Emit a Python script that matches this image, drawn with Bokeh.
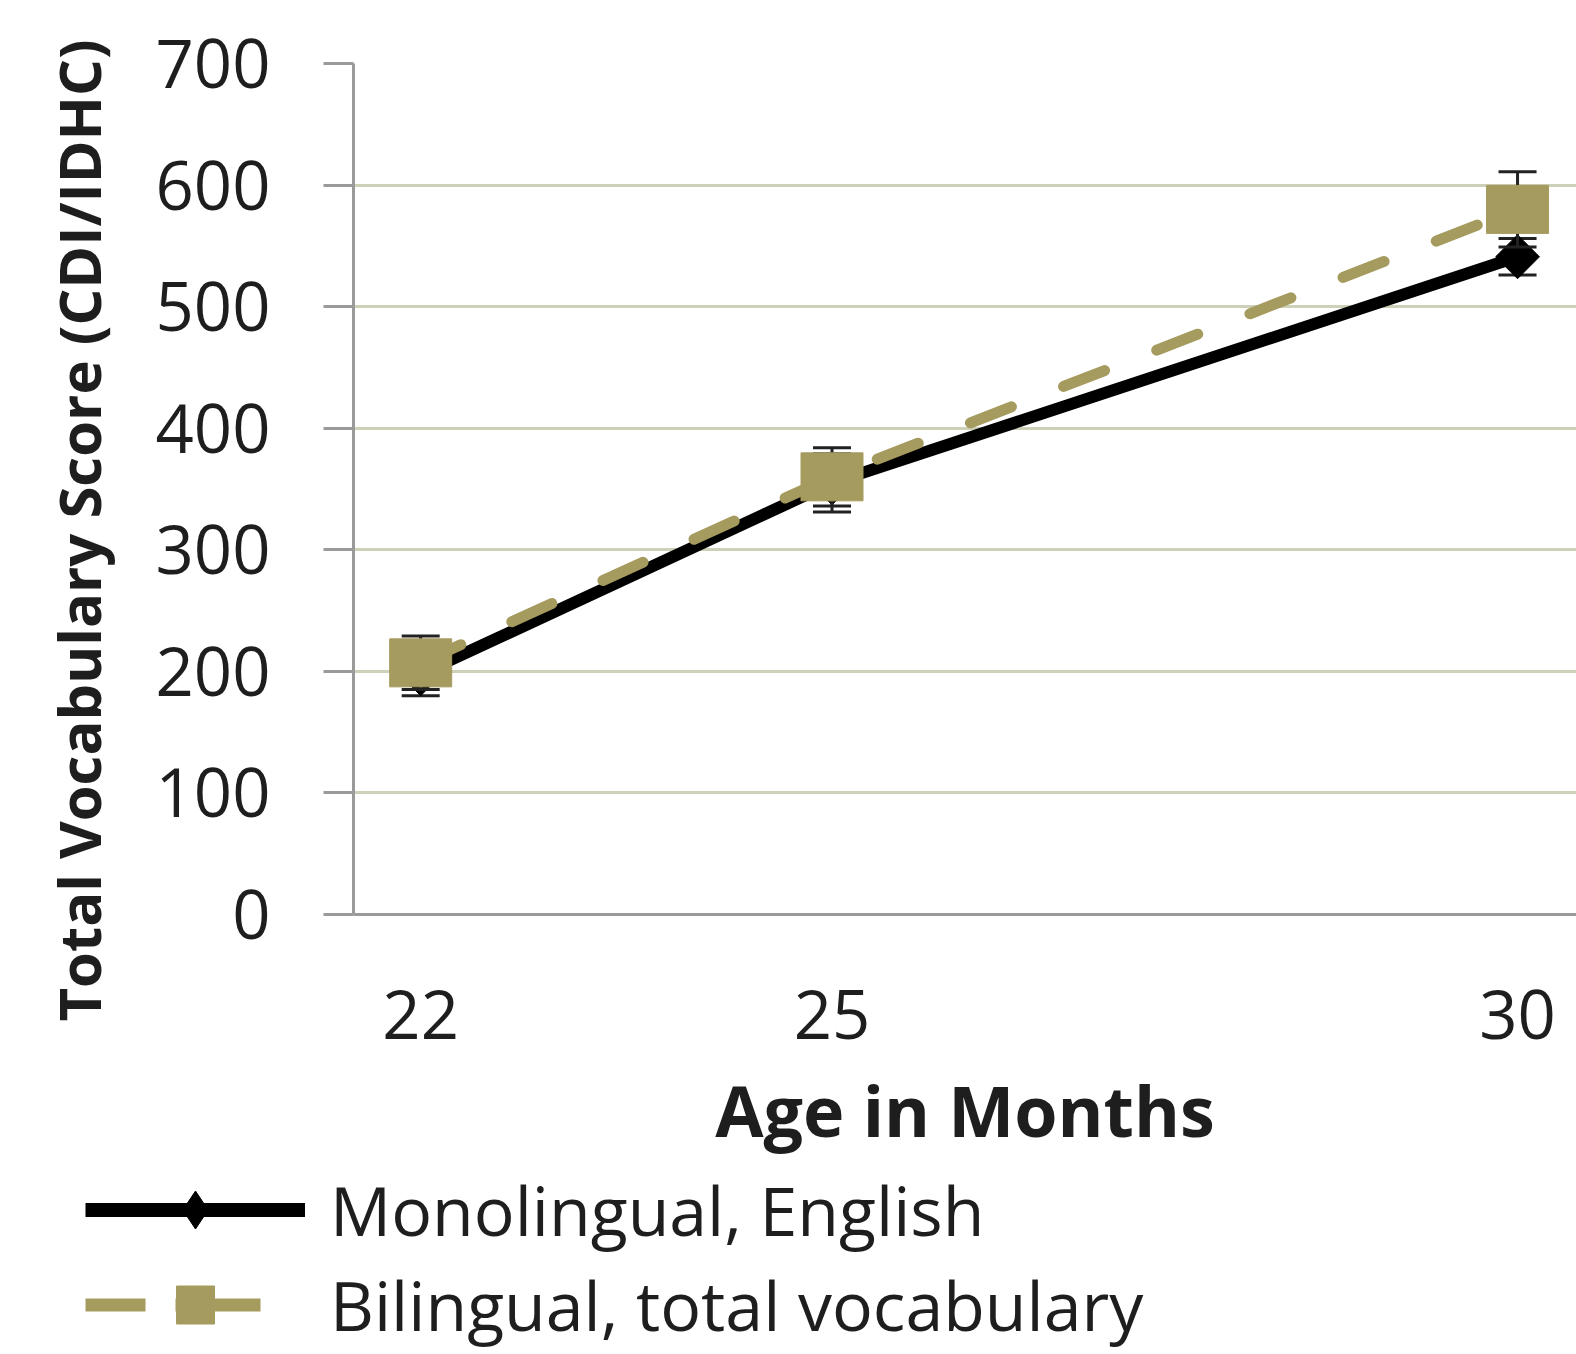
import math

from bokeh.embed import file_html
from bokeh.layouts import column
from bokeh.models import FixedTicker, Legend, LegendItem, Range1d, Title
from bokeh.plotting import figure
from bokeh.resources import INLINE

# Age (months) at each assessment
ages = [22, 25, 30]

# Mean total vocabulary score and error-bar half widths
mono_scores = [198, 355, 541]
mono_err = [18, 24, 15]
bi_scores = [207, 360, 580]
bi_err = [22, 24, 31]

series_labels = ["Monolingual, English", "Bilingual, total vocabulary"]
y_ticks = [0, 100, 200, 300, 400, 500, 600, 700]

BLACK = "#000000"
TAN = "#a69b5f"
TEXT = "#1e1e1e"
FONT = "Open Sans"

p = figure(
    width=1576, height=1160,
    x_range=Range1d(21.51, 30.43), y_range=Range1d(0, 700),
    output_backend="svg", toolbar_location=None,
    min_border_left=353, min_border_right=0,
    min_border_top=63, min_border_bottom=243,
)
p.frame_align = False
p.outline_line_color = None
p.background_fill_color = "white"
p.border_fill_color = "white"

# axes
p.xaxis.ticker = FixedTicker(ticks=ages)
p.yaxis.ticker = FixedTicker(ticks=y_ticks)
for ax in (p.xaxis[0], p.yaxis[0]):
    ax.axis_line_color = "#9a9a9a"
    ax.axis_line_width = 3
    ax.major_tick_line_color = "#9a9a9a"
    ax.major_tick_line_width = 3
    ax.minor_tick_line_color = None
    ax.major_tick_in = 0
    ax.major_label_text_font = FONT
    ax.major_label_text_font_size = "67px"
    ax.major_label_text_color = TEXT
    ax.axis_label_text_font = FONT
    ax.axis_label_text_font_style = "bold"
    ax.axis_label_text_color = TEXT
p.xaxis.major_tick_out = 0
p.xaxis.major_label_standoff = 75
p.xaxis.axis_label = "Age in Months"
p.xaxis.axis_label_text_font_size = "70px"
p.xaxis.axis_label_standoff = 20
p.yaxis.major_tick_out = 30
p.yaxis.major_label_standoff = 53

# vertical axis title, anchored near the bottom of the plot area
p.add_layout(Title(text="Total Vocabulary Score (CDI/IDHC)", align="left",
                   offset=-107, standoff=70, text_font=FONT,
                   text_font_size="58px", text_font_style="bold",
                   text_color=TEXT), "left")

p.xgrid.grid_line_color = None
p.ygrid.grid_line_color = "#cdd1b8"
p.ygrid.grid_line_width = 3


def error_bars(fig, xs, ys, errs):
    lo = [y - e for y, e in zip(ys, errs)]
    hi = [y + e for y, e in zip(ys, errs)]
    fig.segment(xs, lo, xs, hi, line_color="#222222", line_width=3)
    fig.scatter(xs, lo, marker="dash", size=38, line_color="#222222", line_width=3)
    fig.scatter(xs, hi, marker="dash", size=38, line_color="#222222", line_width=3)


# monolingual series
error_bars(p, ages, mono_scores, mono_err)
p.line(ages, mono_scores, line_color=BLACK, line_width=12)
p.scatter(ages, mono_scores, marker="square", angle=math.pi / 4, size=31,
          fill_color=BLACK, line_color=BLACK)

# bilingual series
error_bars(p, ages, bi_scores, bi_err)
p.line(ages, bi_scores, line_color=TAN, line_width=11,
       line_dash="44 56", line_cap="round")
p.rect(ages, bi_scores, width=62, height=48, width_units="screen",
       height_units="screen", fill_color=TAN, line_color=TAN)

# legend strip below the chart
lg = figure(
    width=1576, height=194, x_range=Range1d(0, 1), y_range=Range1d(0, 1),
    output_backend="svg", toolbar_location=None, min_border=0,
)
lg.frame_align = False
lg.axis.visible = False
lg.grid.grid_line_color = None
lg.outline_line_color = None
off = [5, 6]
k1 = lg.line(off, off, line_color=BLACK, line_width=14)
m1 = lg.scatter(off, off, marker="diamond", size=38, fill_color=BLACK, line_color=BLACK)
k2 = lg.line(off, off, line_color=TAN, line_width=13, line_dash="60 30 85 200")
m2 = lg.scatter(off, off, marker="square", size=40, fill_color=TAN, line_color=TAN)

legend = Legend(
    items=[LegendItem(label=series_labels[0], renderers=[k1, m1]),
           LegendItem(label=series_labels[1], renderers=[k2, m2])],
    location=(85, 2), orientation="vertical",
    glyph_width=220, glyph_height=95, label_standoff=25, spacing=0,
    padding=0, margin=0, border_line_alpha=0, background_fill_alpha=0,
    label_text_font=FONT, label_text_font_size="68px", label_text_color=TEXT,
)
lg.add_layout(legend, "center")

layout = column(p, lg, spacing=0)
open("out.html", "w").write(file_html(layout, INLINE))
